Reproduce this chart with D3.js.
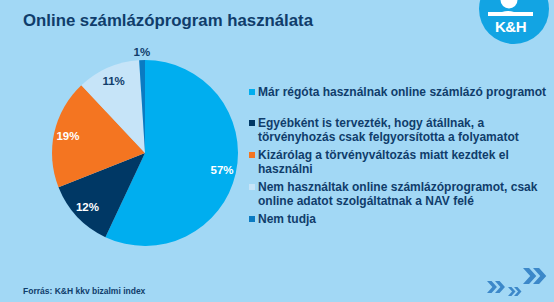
<!DOCTYPE html>
<html>
<head>
<meta charset="utf-8">
<script src="https://cdn.jsdelivr.net/npm/d3@7"></script>
<style>
  html, body { margin: 0; padding: 0; }
  body { width: 554px; height: 302px; overflow: hidden; background: #a2d8f5; }
  text { font-family: "Liberation Sans", Arial, sans-serif; font-weight: bold; }
</style>
</head>
<body>
<script>
// chart data
let categories = [
  "Már régóta használnak online számlázó programot",
  "Egyébként is tervezték, hogy átállnak, a törvényhozás csak felgyorsította a folyamatot",
  "Kizárólag a törvényváltozás miatt kezdtek el használni",
  "Nem használtak online számlázóprogramot, csak online adatot szolgáltatnak a NAV felé",
  "Nem tudja"
];
let values = [57, 12, 19, 11, 1];
let legendLines = [
  ["Már régóta használnak online számlázó programot"],
  ["Egyébként is tervezték, hogy átállnak, a", "törvényhozás csak felgyorsította a folyamatot"],
  ["Kizárólag a törvényváltozás miatt kezdtek el", "használni"],
  ["Nem használtak online számlázóprogramot, csak", "online adatot szolgáltatnak a NAV felé"],
  ["Nem tudja"]
];
let title = "Online számlázóprogram használata";
let source = "Forrás: K&H kkv bizalmi index";

let palette = ["#00aeef", "#003865", "#f47521", "#c6e4f8", "#0a7bc2"];
let labelColors = ["#ffffff", "#ffffff", "#ffffff", "#103d6b", "#103d6b"];
let navy = "#103d6b";

function init() {
  let svg = d3.select("body").append("svg")
    .attr("width", 554)
    .attr("height", 302);

  svg.append("rect")
    .attr("width", 554).attr("height", 302)
    .attr("fill", "#a2d8f5");

  // title
  svg.append("text")
    .attr("x", 23).attr("y", 26)
    .attr("font-size", 16.8)
    .attr("fill", navy)
    .text(title);

  // logo
  let logo = svg.append("g").attr("transform", "translate(514,9)");
  logo.append("circle").attr("r", 35).attr("fill", "#12a4e3");
  logo.append("circle").attr("cx", -5).attr("cy", -9).attr("r", 8.5).attr("fill", "#fff");
  logo.append("path")
    .attr("d", "M-26,3 L-12,3 Q-6,1 0,3 L19,3 L19,7 L-26,7 Z")
    .attr("fill", "#fff");
  logo.append("text")
    .attr("x", -3.5).attr("y", 23)
    .attr("text-anchor", "middle")
    .attr("font-size", 15)
    .attr("font-family", "DejaVu Sans")
    .attr("font-weight", "bold")
    .attr("letter-spacing", -0.5)
    .attr("fill", "#fff")
    .text("K&H");

  // pie
  let color = d3.scaleOrdinal().domain(categories).range(palette);
  let pie = d3.pie().sort(null).value(d => d.value);
  let rows = categories.map((c, i) => ({ name: c, value: values[i], i: i }));
  let arcs = pie(rows);
  let radius = 93;
  let arc = d3.arc().innerRadius(0).outerRadius(radius);
  let inLabel = d3.arc().innerRadius(79).outerRadius(79);
  let outLabel = d3.arc().innerRadius(101).outerRadius(101);

  let g = svg.append("g").attr("transform", "translate(145,153)");
  g.selectAll("path")
    .data(arcs)
    .enter()
      .append("path")
        .attr("d", arc)
        .attr("fill", d => color(d.data.name));

  g.selectAll("text.lbl")
    .data(arcs)
    .enter()
      .append("text")
        .attr("class", "lbl")
        .attr("transform", d => {
          let c = (d.data.value < 5 ? outLabel : inLabel).centroid(d);
          return "translate(" + c + ")";
        })
        .attr("text-anchor", "middle")
        .attr("dy", "0.35em")
        .attr("font-size", 11.5)
        .attr("fill", d => labelColors[d.data.i])
        .text(d => d.data.value + "%");

  // legend
  let legendY = [92, 123, 155, 187, 219];
  let leg = svg.append("g");
  let items = leg.selectAll("g")
    .data(rows)
    .enter()
      .append("g")
        .attr("transform", d => "translate(249," + legendY[d.i] + ")");
  items.append("rect")
    .attr("x", 0).attr("y", -3)
    .attr("width", 6).attr("height", 6)
    .attr("fill", d => color(d.name));
  items.each(function (d) {
    let t = d3.select(this).append("text")
      .attr("x", 9).attr("y", 0)
      .attr("font-size", 12)
      .attr("fill", navy);
    legendLines[d.i].forEach((ln, k) => {
      t.append("tspan")
        .attr("x", 9)
        .attr("y", k * 14)
        .attr("dy", "0.37em")
        .text(ln);
    });
  });

  // source
  svg.append("text")
    .attr("x", 23).attr("y", 294)
    .attr("font-size", 8.5)
    .attr("fill", navy)
    .text(source);

  // chevrons
  let chev = svg.append("g").attr("fill", "#3c88c9");
  function chevron(x, y, s) {
    let p = "M" + x + "," + y + " l" + (0.45 * s) + "," + (0.5 * s) + " l" + (-0.45 * s) + "," + (0.5 * s)
      + " l" + (0.38 * s) + ",0 l" + (0.45 * s) + "," + (-0.5 * s) + " l" + (-0.45 * s) + "," + (-0.5 * s) + " Z";
    chev.append("path").attr("d", p);
  }
  chevron(523, 268, 16); chevron(533, 268, 16);
  chevron(487, 281, 12); chevron(495, 281, 12);
  chevron(508, 287, 9); chevron(514, 287, 9);
}
init();
</script>
</body>
</html>
